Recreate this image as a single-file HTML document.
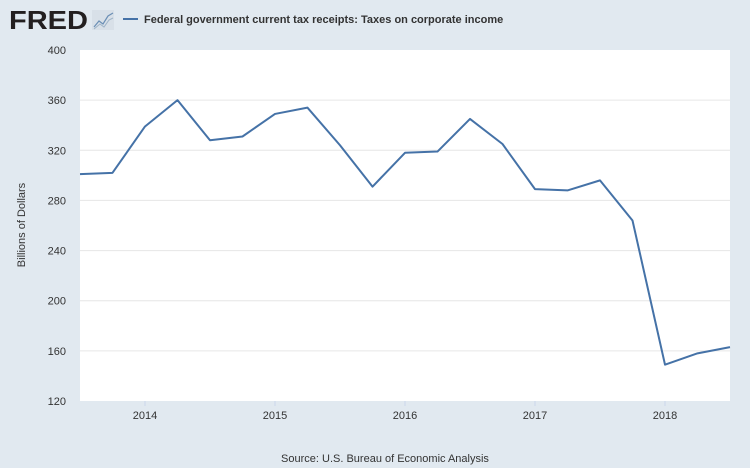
<!DOCTYPE html>
<html><head><meta charset="utf-8"><style>
body{margin:0;background:#e1e9f0;font-family:"Liberation Sans",sans-serif;}
svg{display:block}
</style></head><body>
<svg width="750" height="468">
<rect width="750" height="468" fill="#e1e9f0"/>
<g>
<text x="9" y="29" font-size="26" font-weight="bold" fill="#231f20" textLength="79" lengthAdjust="spacingAndGlyphs">FRED</text>
<rect x="92" y="10" width="22" height="20" fill="#d8e0e8"/>
<polyline points="94,27 99,21 103,24 108,16 113,13" fill="none" stroke="#6b8fb5" stroke-width="1.2"/>
<polyline points="94,29 100,24 104,27 109,20 113,18" fill="none" stroke="#9fb4c8" stroke-width="1"/>
</g>
<line x1="123" y1="19" x2="138" y2="19" stroke="#4572a7" stroke-width="2"/>
<text x="144" y="23" font-size="11" font-weight="bold" fill="#333">Federal government current tax receipts: Taxes on corporate income</text>
<rect x="80" y="50" width="650" height="351" fill="#fff"/>
<g id="grid"></g>
<g id="series"></g>
<text x="25" y="225" font-size="11" fill="#333" text-anchor="middle" transform="rotate(-90 25 225)">Billions of Dollars</text>
<text x="385" y="462" font-size="11" fill="#333" text-anchor="middle">Source: U.S. Bureau of Economic Analysis</text>
</svg>
<script>
const yTicks=[120,160,200,240,280,320,360,400];
const xYears=[2014,2015,2016,2017,2018];
const dates=[2013.5,2013.75,2014,2014.25,2014.5,2014.75,2015,2015.25,2015.5,2015.75,2016,2016.25,2016.5,2016.75,2017,2017.25,2017.5,2017.75,2018,2018.25,2018.5];
const values=[301,302,339,360,328,331,349,354,324,291,318,319,345,325,289,288,296,264,149,158,163];
const NS="http://www.w3.org/2000/svg";
function xs(d){return 80+(d-2013.5)*(650/5);}
function ys(v){return 401-(v-120)*(351/280);}
const grid=document.getElementById('grid');
const svg=document.querySelector('svg');
yTicks.forEach(t=>{
 if(t>120&&t<400){const l=document.createElementNS(NS,'line');
 l.setAttribute('x1',80);l.setAttribute('x2',730);l.setAttribute('y1',ys(t));l.setAttribute('y2',ys(t));
 l.setAttribute('stroke','#e6e6e6');
 
 
 grid.appendChild(l);}
 const tx=document.createElementNS(NS,'text');
 tx.setAttribute('x',66);tx.setAttribute('y',ys(t)+4);tx.setAttribute('font-size','11');tx.setAttribute('fill','#333');tx.setAttribute('text-anchor','end');
 tx.textContent=t;
 
 
 svg.appendChild(tx);
});
xYears.forEach(y=>{
 const x=xs(y);
 const l=document.createElementNS(NS,'line');
 l.setAttribute('x1',x);l.setAttribute('x2',x);l.setAttribute('y1',401);l.setAttribute('y2',406);l.setAttribute('stroke','#ccd6eb');
 
 
 svg.appendChild(l);
 const tx=document.createElementNS(NS,'text');
 tx.setAttribute('x',x);tx.setAttribute('y',419);tx.setAttribute('font-size','11');tx.setAttribute('fill','#333');tx.setAttribute('text-anchor','middle');
 tx.textContent=y;
 
 
 svg.appendChild(tx);
});
const p=document.createElementNS(NS,'polyline');
p.setAttribute('points',dates.map((d,i)=>xs(d)+','+ys(values[i])).join(' '));
p.setAttribute('fill','none');p.setAttribute('stroke','#4572a7');p.setAttribute('stroke-width','2');p.setAttribute('stroke-linejoin','round');


document.getElementById('series').appendChild(p);
</script>
</body></html>
